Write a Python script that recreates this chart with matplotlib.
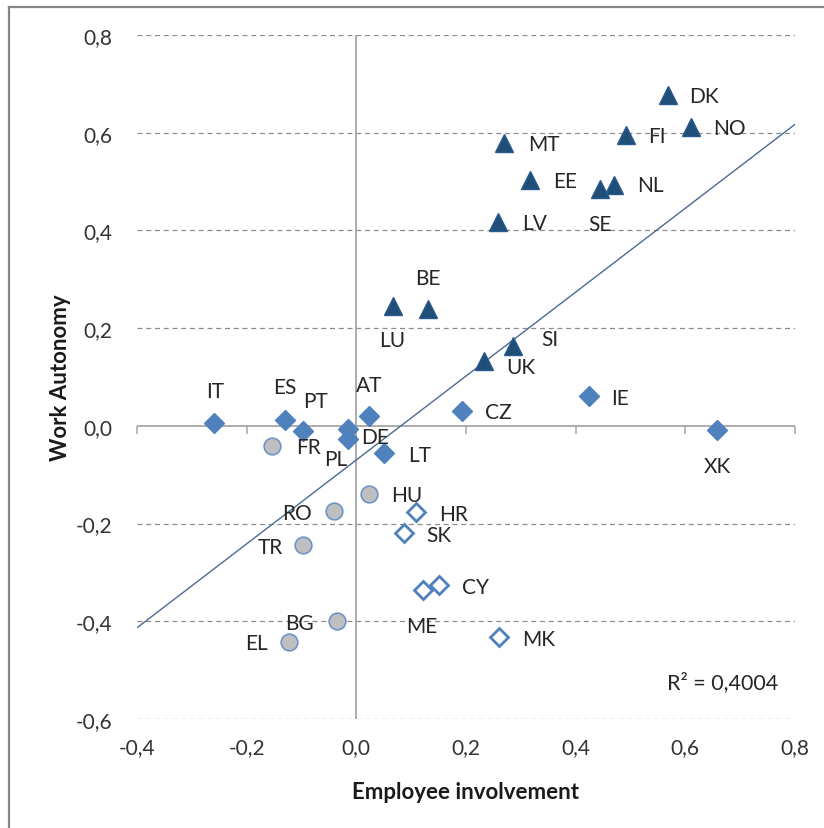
import numpy as np
import matplotlib
matplotlib.use("Agg")
import matplotlib.pyplot as plt
from matplotlib.lines import Line2D

plt.rcParams['font.family'] = ['Lato', 'DejaVu Sans']

# ---- data ----
tri_names = ["DK", "NO", "FI", "MT", "EE", "NL", "SE", "LV", "BE", "LU", "SI", "UK"]
tri_x = [0.568, 0.610, 0.491, 0.270, 0.317, 0.470, 0.445, 0.259, 0.131, 0.066, 0.286, 0.233]
tri_y = [0.678, 0.611, 0.595, 0.578, 0.504, 0.492, 0.484, 0.417, 0.239, 0.246, 0.164, 0.133]

dia_names = ["IT", "ES", "PT", "AT", "DE", "PL", "LT", "CZ", "IE", "XK"]
dia_x = [-0.259, -0.131, -0.097, 0.023, -0.016, -0.016, 0.050, 0.193, 0.425, 0.658]
dia_y = [0.005, 0.011, -0.010, 0.021, -0.006, -0.026, -0.056, 0.031, 0.062, -0.008]

cir_names = ["FR", "HU", "RO", "TR", "BG", "EL"]
cir_x = [-0.153, 0.023, -0.040, -0.097, -0.036, -0.122]
cir_y = [-0.042, -0.140, -0.175, -0.244, -0.399, -0.442]

opn_names = ["HR", "SK", "CY", "ME", "MK"]
opn_x = [0.109, 0.087, 0.151, 0.121, 0.261]
opn_y = [-0.177, -0.220, -0.326, -0.336, -0.432]

x_ticks = [-0.4, -0.2, 0.0, 0.2, 0.4, 0.6, 0.8]
y_ticks = [-0.6, -0.4, -0.2, 0.0, 0.2, 0.4, 0.6, 0.8]
r2_text = "R² = 0,4004"

# label offsets in pixels (dx right, dy down) from the marker centre
label_offsets = {
    "DK": (36, 1), "NO": (39, 1), "FI": (31, 1), "MT": (39, 1), "EE": (35, 1),
    "NL": (36, 0), "SE": (0, 35), "LV": (36, 1), "BE": (0, -31), "LU": (0, 34),
    "SI": (37, -7), "UK": (37, 6), "IT": (1, -32), "ES": (0, -33), "PT": (12, -30),
    "AT": (0, -31), "DE": (28, 8), "PL": (-12, 20), "FR": (36, 1), "LT": (36, 2),
    "CZ": (36, 1), "IE": (31, 2), "XK": (0, 36), "HU": (38, 1), "RO": (-37, 2),
    "TR": (-33, 2), "BG": (-37, 2), "EL": (-33, 1), "HR": (37, 2), "SK": (35, 2),
    "CY": (36, 2), "ME": (-1, 36), "MK": (39, 2),
}

W, H, DPI = 824, 829, 100
fig = plt.figure(figsize=(W / DPI, H / DPI), dpi=DPI)
ax = fig.add_axes([137 / W, 1 - 720 / H, 658 / W, 684 / H])

xmin, xmax, ymin, ymax = -0.4, 0.8, -0.6, 0.8
ax.set_xlim(xmin, xmax)
ax.set_ylim(ymin, ymax)

# gridlines (dashed) except zero
for yv in y_ticks:
    if yv != 0:
        ax.axhline(yv, color='#8c8c8c', lw=0.9, ls=(0, (4, 3)), zorder=0)
# zero axes
ax.axhline(0, color='#a6a6a6', lw=1.3, zorder=1)
ax.axvline(0, color='#a6a6a6', lw=1.3, zorder=1)

for s in ax.spines.values():
    s.set_visible(False)
ax.set_xticks(x_ticks)
ax.set_yticks(y_ticks)
ax.set_xticklabels([f"{v:.1f}".replace('.', ',') for v in x_ticks])
ax.set_yticklabels([f"{v:.1f}".replace('.', ',') for v in y_ticks])
ax.tick_params(axis='both', length=0, labelsize=15, colors='#333333')
ax.tick_params(axis='y', pad=18)
ax.tick_params(axis='x', pad=13)

# tick marks on the zero axes
secx = ax.secondary_xaxis((0 - ymin) / (ymax - ymin))
secx.set_xticks(x_ticks)
secx.set_xticklabels([])
secx.tick_params(direction='out', length=6, width=1.1, color='#a6a6a6')
secx.spines['bottom'].set_visible(False)
secx.spines['top'].set_visible(False)

# trend line
all_x = np.array(tri_x + dia_x + cir_x + opn_x)
all_y = np.array(tri_y + dia_y + cir_y + opn_y)
slope, intercept = np.polyfit(all_x, all_y, 1)
xs = np.array([xmin, xmax])
ax.plot(xs, slope * xs + intercept, color='#4a6a92', lw=1.0, zorder=2)

# markers
ax.plot(tri_x, tri_y, ls='none', marker='^', ms=13.5, mfc='#1f4e79', mec='#2a5a8c', mew=1, zorder=3)
ax.plot(dia_x, dia_y, ls='none', marker='D', ms=10, mfc='#4f81bd', mec='#4f81bd', mew=1, zorder=3)
ax.plot(cir_x, cir_y, ls='none', marker='o', ms=12, mfc='#bfbfbf', mec='#6d95c8', mew=1.2, zorder=3)
ax.plot(opn_x, opn_y, ls='none', marker='D', ms=9, mfc='white', mec='#4f81bd', mew=2, zorder=3)

# labels
for names, xs_, ys_ in [(tri_names, tri_x, tri_y), (dia_names, dia_x, dia_y),
                        (cir_names, cir_x, cir_y), (opn_names, opn_x, opn_y)]:
    for n, xv, yv in zip(names, xs_, ys_):
        dx, dy = label_offsets[n]
        ax.annotate(n, (xv, yv), xytext=(dx * 0.72, -dy * 0.72), textcoords='offset points',
                    ha='center', va='center', fontsize=15, color='#262626', zorder=4)

ax.text(0.974, 0.055, r2_text, transform=ax.transAxes, ha='right', va='center',
        fontsize=15.5, color='#262626')

ax.set_xlabel("Employee involvement", fontsize=16, fontweight='bold', color='#1a1a1a', labelpad=17)
ax.set_ylabel("Work Autonomy", fontsize=16, fontweight='bold', color='#1a1a1a', labelpad=3)

# outer frame (left and top visible)
fig.add_artist(Line2D([8.5 / W, 8.5 / W], [0, 1 - 7.5 / H], transform=fig.transFigure, color='#868686', lw=1.6))
fig.add_artist(Line2D([8.5 / W, 1], [1 - 7.5 / H, 1 - 7.5 / H], transform=fig.transFigure, color='#868686', lw=1.6))

fig.savefig("out.png", dpi=DPI)
